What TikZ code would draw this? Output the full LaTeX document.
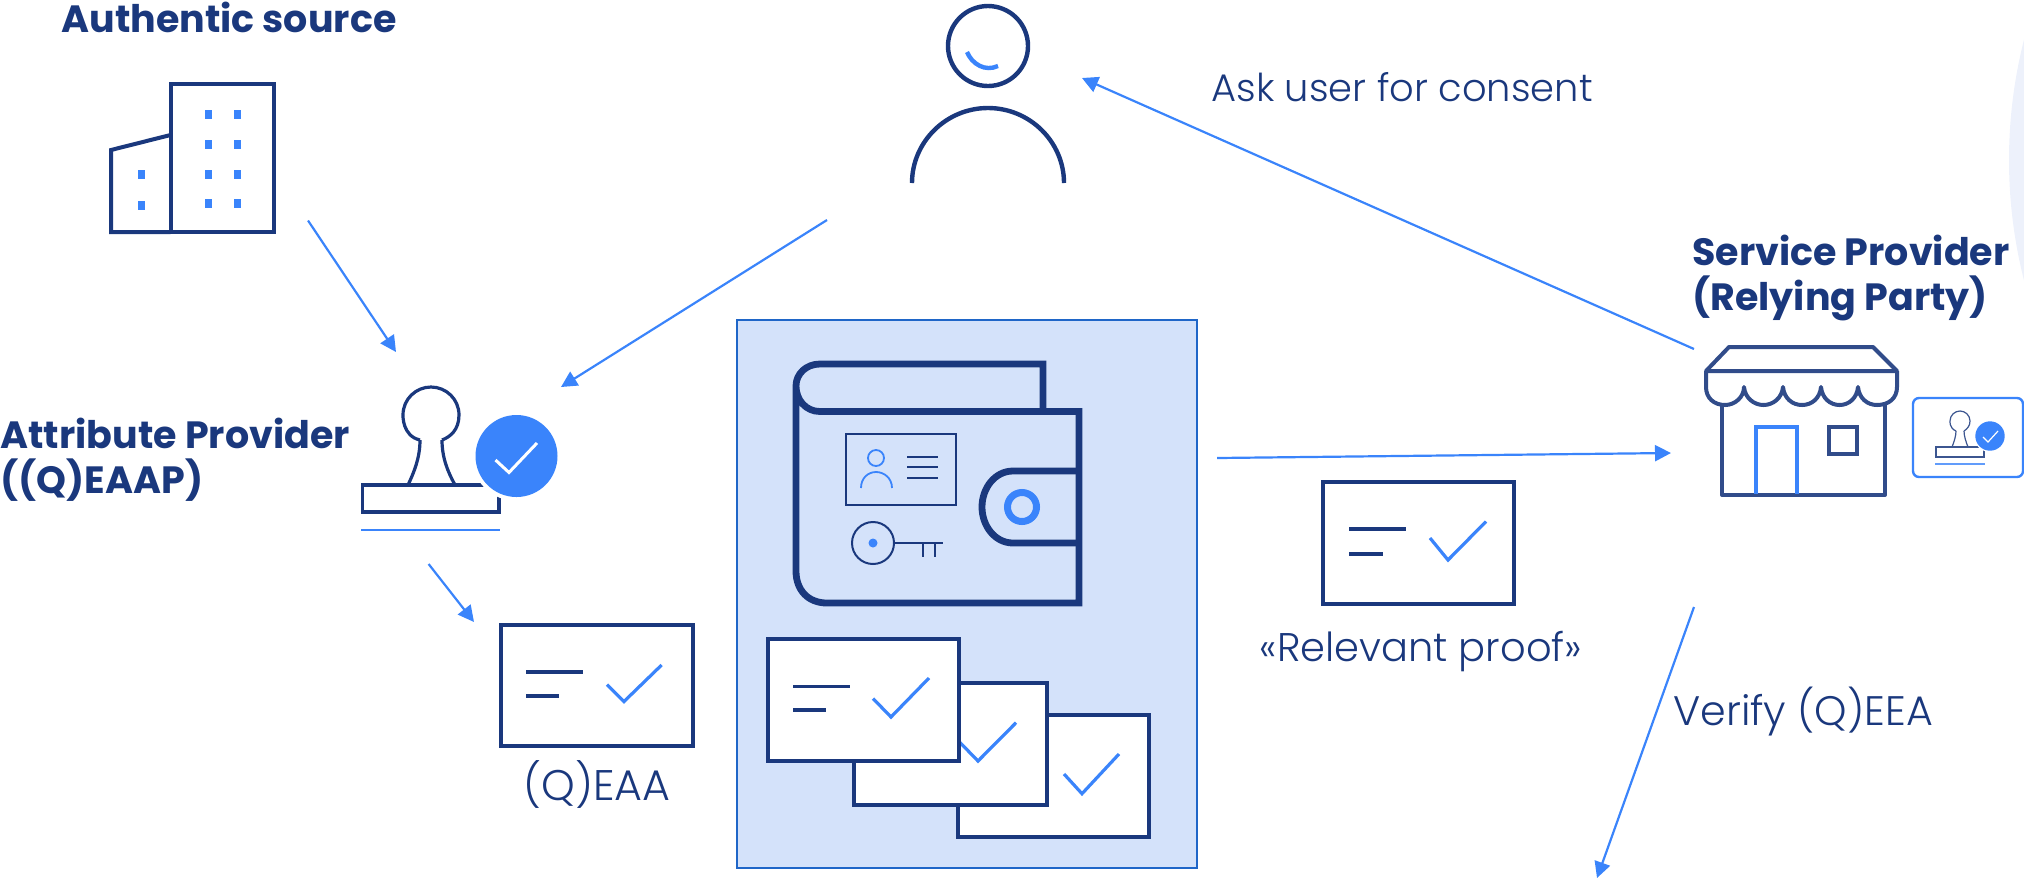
\documentclass[tikz,border=0pt]{standalone}
\usepackage{fontspec}
\setmainfont{Poppins}
\newfontfamily\boldf{Poppins Bold}
\newfontfamily\lightf{Poppins Light}
\usetikzlibrary{arrows.meta}
\definecolor{ink}{HTML}{1A387D}
\definecolor{sky}{HTML}{3A84FB}
\definecolor{panel}{HTML}{D4E2FA}
\definecolor{panelline}{HTML}{1F66C8}
\definecolor{halo}{HTML}{EDF1FB}
\tikzset{
 x=0.5pt,y=-0.5pt,
 inkline/.style={draw=ink,line width=2pt},
 thinink/.style={draw=ink,line width=1pt},
 skyline/.style={draw=sky,line width=1.6pt},
 flow/.style={draw=sky,line width=1.1pt,-{Triangle[length=8pt,width=8pt]}},
 card/.style={draw=ink,line width=2pt,fill=white},
 title/.style={inner sep=0pt,anchor=base west,text=ink,font=\boldf\fontsize{19}{22}\selectfont},
 label/.style={inner sep=0pt,anchor=base west,text=ink,font=\lightf\fontsize{19.2}{22}\selectfont},
 labelc/.style={label,anchor=base},
}
\begin{document}
\begin{tikzpicture}
\useasboundingbox (0,0) rectangle (2024,880);
% halo
\begin{scope}
\clip (0,0) rectangle (2024,880);
\fill[halo] (2496,160) circle[radius=487];
\end{scope}
% texts
\node[title] (tAuth) at (61,32.5) {Authentic source};
\node[title] (tAttr1) at (0,448) {Attribute Provider};
\node[title] (tAttr2) at (0,493) {((Q)EAAP)};
\node[title] (tSP1) at (1692,265) {Service Provider};
\node[title] (tSP2) at (1692,310) {(Relying Party)};
\node[label] (tAsk) at (1211,101) {Ask user for consent};
\node[label,font=\lightf\fontsize{20.6}{24}\selectfont] (tVerify) at (1673,725) {Verify (Q)EEA};
\node[labelc,font=\lightf\fontsize{20}{24}\selectfont] (tProof) at (1421,661) {«Relevant proof»};
\node[labelc,font=\lightf\fontsize{21.4}{24}\selectfont] (tQ) at (597,800) {(Q)EAA};
% building
\draw[inkline] (170.5,84) rectangle (274,232);
\draw[inkline] (170.5,135) -- (111,150) -- (111,232) -- (170.5,232);
\foreach \wx in {208,237.5}\foreach \wy in {114,144,174,203}
  \fill[sky] (\wx-3.5,\wy-4.5) rectangle (\wx+3.5,\wy+4.5);
\foreach \wy in {174,205} \fill[sky] (141-3.5,\wy-4.5) rectangle (141+3.5,\wy+4.5);
% person
\draw[inkline,line width=2.2pt] (988,46) circle[radius=40];
\draw[skyline,line width=2.2pt] (967,52) .. controls (972,64) and (985,72) .. (998,66);
\draw[inkline,line width=2.2pt] (912,183) .. controls (912,142) and (946,108) .. (988,108) .. controls (1030,108) and (1064,142) .. (1064,183);
% stamp
\draw[thinink,line width=1.6pt] (420,440) .. controls (402,436) and (403,415) .. (403,415) .. controls (403,399) and (416,387) .. (431,387) .. controls (446,387) and (459,399) .. (459,415) .. controls (459,430) and (450,437) .. (442,440);
\draw[thinink,line width=1.6pt] (420,440) .. controls (420,458) and (414,472) .. (408.5,484);
\draw[thinink,line width=1.6pt] (442,440) .. controls (442,458) and (448,472) .. (454.5,484);
\draw[thinink,line width=1.6pt] (362.5,485) rectangle (499,512);
\draw[sky,line width=1.3pt] (361,530) -- (500,530);
\fill[white] (516.5,456) circle[radius=45];
\fill[sky] (516.5,456) circle[radius=41];
\draw[white,line width=1.5pt] (495.5,460) -- (509,472.5) -- (537,443);
% (Q)EAA card
\draw[card] (501,624.6) rectangle (693,746);
\draw[inkline,line width=1.6pt] (526,672) -- (582.6,672);
\draw[inkline,line width=1.6pt] (526,696) -- (559,696);
\draw[skyline] (607,684.6) -- (624,701.5) -- (661.6,665);
% proof card
\draw[card] (1323,481.5) rectangle (1514,604);
\draw[inkline,line width=1.6pt] (1349,529) -- (1406,529);
\draw[inkline,line width=1.6pt] (1349,554) -- (1383,554);
\draw[skyline] (1430,538) -- (1448,560) -- (1486,521.5);
% panel
\draw[draw=panelline,fill=panel,line width=1.2pt] (737,320) rectangle (1197,868);
% wallet
\draw[draw=ink,line width=3.4pt] (1043,411.5) -- (1043,364) -- (820,364) .. controls (806,364) and (796,374) .. (796,386) .. controls (796,400) and (806,411.5) .. (820,411.5) -- (1079,411.5) -- (1079,603) -- (827,603) .. controls (808,603) and (796,590) .. (796,571) -- (796,386);
\draw[draw=ink,line width=3.4pt] (1079,471) -- (1013,471) .. controls (995,471) and (982,488) .. (982,507) .. controls (982,526) and (995,543) .. (1013,543) -- (1079,543);
\draw[sky,line width=3.5pt] (1022,507) circle[radius=14.5];
% id card
\draw[thinink] (846,434) rectangle (956,505);
\draw[sky,line width=0.9pt] (876,458) circle[radius=8];
\draw[sky,line width=0.9pt] (861,488) .. controls (861,478) and (868,472) .. (876,472) .. controls (884,472) and (892,478) .. (892,488);
\foreach \ly in {456.5,467,478} \draw[thinink] (907,\ly) -- (938,\ly);
% key
\draw[thinink] (873,543) circle[radius=21];
\fill[sky] (873,543) circle[radius=4.5];
\draw[thinink] (894,543) -- (943,543);
\draw[thinink] (923,543) -- (923,557);
\draw[thinink] (935,543) -- (935,557);
% stacked cards
\draw[card] (958,714.5) rectangle (1149,837);
\draw[skyline] (1064,774) -- (1082,793.7) -- (1119,754);
\draw[card] (854,682.5) rectangle (1047,805);
\draw[skyline] (960,742.5) -- (978,761) -- (1016,722.7);
\draw[card] (768,639) rectangle (959,761);
\draw[inkline,line width=1.6pt] (793,686.6) -- (850,686.6);
\draw[inkline,line width=1.6pt] (793,710) -- (826,710);
\draw[skyline] (873,698.5) -- (891,717) -- (929,678);
% shop
\begin{scope}[draw=ink!90!white,line width=2pt,line join=round]
\draw (1729,347) -- (1873,347) -- (1897,371) -- (1706,371) -- cycle;
\draw (1706,371) -- (1706,387) .. controls (1706,398) and (1714,405) .. (1725,405) .. controls (1735,405) and (1744,397) .. (1744,387) .. controls (1745,398) and (1754,405) .. (1763.5,405) .. controls (1773,405) and (1782,398) .. (1783,387) .. controls (1784,398) and (1792,405) .. (1802,405) .. controls (1812,405) and (1820,398) .. (1821,387) .. controls (1822,398) and (1830,405) .. (1839.5,405) .. controls (1849,405) and (1857,398) .. (1858,387) .. controls (1859,398) and (1867,405) .. (1877,405) .. controls (1889,405) and (1897,398) .. (1897,387) -- (1897,371);
\draw (1722,405) -- (1722,495) -- (1885,495) -- (1885,405);
\draw[line join=miter] (1829,427) rectangle (1857,454);
\end{scope}
\draw[sky,line width=2pt] (1756,494) -- (1756,427) -- (1797,427) -- (1797,494);
% mini badge
\draw[sky,line width=1.2pt,rounded corners=3pt,fill=white] (1913,398) rectangle (2023,477);
\begin{scope}[draw=ink!85!white,line width=0.6pt]
\draw (1956,431) .. controls (1949,428) and (1950,421) .. (1950,421) .. controls (1950,415) and (1955,411) .. (1960,411) .. controls (1965,411) and (1970,415) .. (1970,421) .. controls (1970,426) and (1967,429) .. (1964,431);
\draw (1956,431) .. controls (1956,436) and (1954,442) .. (1952,447);
\draw (1964,431) .. controls (1964,436) and (1966,442) .. (1968,447);
\draw (1936,447) rectangle (1984,457);
\end{scope}
\draw[sky,line width=0.6pt,opacity=.8] (1935,464) -- (1985,464);
\fill[white] (1990,436) circle[radius=16];
\fill[sky] (1990,436) circle[radius=14.7];
\draw[white,line width=0.6pt] (1983,437) -- (1988,442) -- (1998,431);
% connector end points
\coordinate (a1) at (308,220.5); \coordinate (a2) at (396,352);
\coordinate (b1) at (827,220); \coordinate (b2) at (561,387);
\coordinate (c1) at (428.6,564); \coordinate (c2) at (474,622);
\coordinate (d1) at (1694,349); \coordinate (d2) at (1082,78);
\coordinate (e1) at (1217,458); \coordinate (e2) at (1671,453);
\coordinate (f1) at (1694,607); \coordinate (f2) at (1597,878);
\draw[flow] (a1) -- (a2);
\draw[flow] (b1) -- (b2);
\draw[flow] (c1) -- (c2);
\draw[flow] (d1) -- (d2);
\draw[flow] (e1) -- (e2);
\draw[flow] (f1) -- (f2);
\end{tikzpicture}
\end{document}
